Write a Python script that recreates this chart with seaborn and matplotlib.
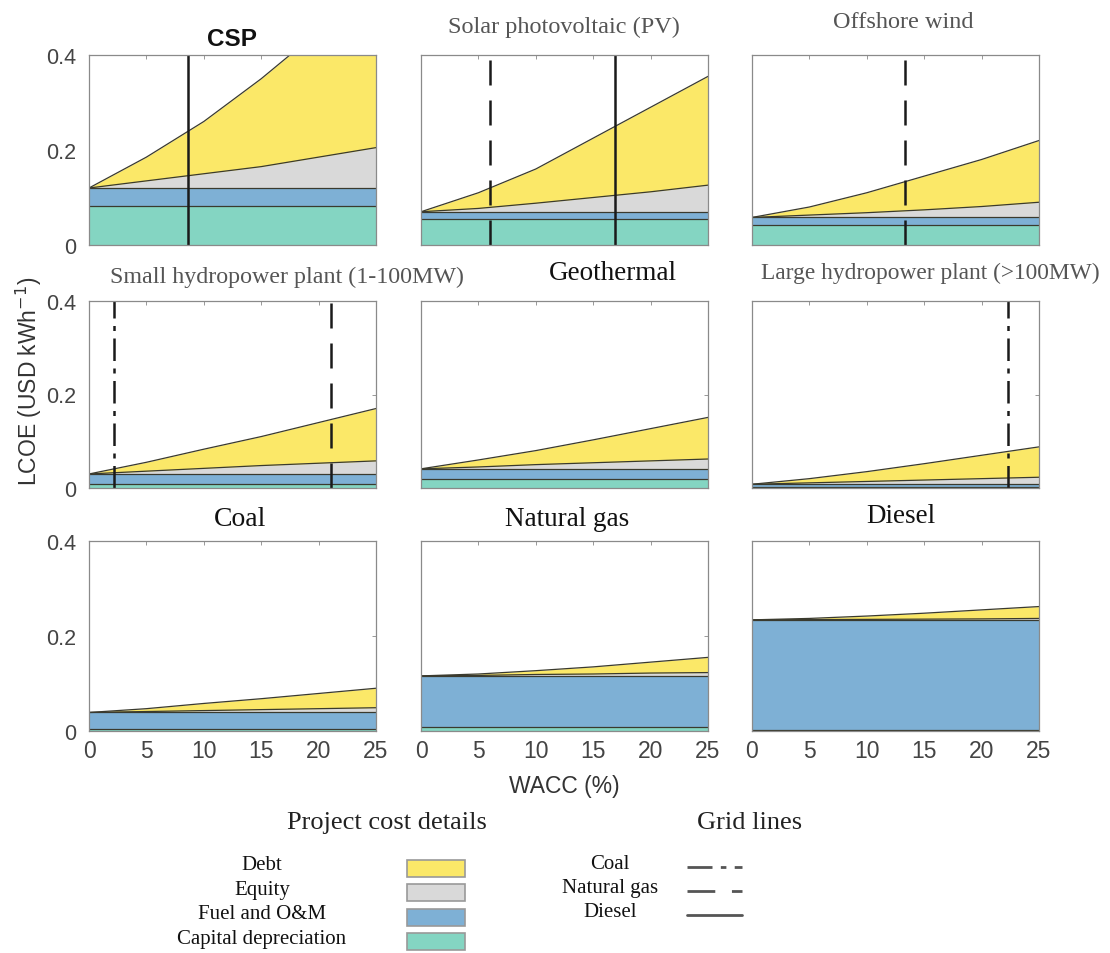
import matplotlib
matplotlib.use("Agg")
import matplotlib.pyplot as plt
import seaborn as sns
import numpy as np
from matplotlib.patches import Rectangle
from matplotlib.lines import Line2D

# WACC (%) grid
wacc = [0, 5, 10, 15, 20, 25]

techs = ["CSP", "Solar photovoltaic (PV)", "Offshore wind",
         "Small hydropower plant (1-100MW)", "Geothermal", "Large hydropower plant (>100MW)",
         "Coal", "Natural gas", "Diesel"]

# LCOE components (USD/kWh)
capital = {
    "CSP": [0.083, 0.083, 0.083, 0.083, 0.083, 0.083],
    "Solar photovoltaic (PV)": [0.055, 0.055, 0.055, 0.055, 0.055, 0.055],
    "Offshore wind": [0.043, 0.043, 0.043, 0.043, 0.043, 0.043],
    "Small hydropower plant (1-100MW)": [0.009, 0.009, 0.009, 0.009, 0.009, 0.009],
    "Geothermal": [0.019, 0.019, 0.019, 0.019, 0.019, 0.019],
    "Large hydropower plant (>100MW)": [0.003, 0.003, 0.003, 0.003, 0.003, 0.003],
    "Coal": [0.004, 0.004, 0.004, 0.004, 0.004, 0.004],
    "Natural gas": [0.009, 0.009, 0.009, 0.009, 0.009, 0.009],
    "Diesel": [0.003, 0.003, 0.003, 0.003, 0.003, 0.003],
}
fuel_om = {
    "CSP": [0.037, 0.037, 0.037, 0.037, 0.037, 0.037],
    "Solar photovoltaic (PV)": [0.015, 0.015, 0.015, 0.015, 0.015, 0.015],
    "Offshore wind": [0.015, 0.015, 0.015, 0.015, 0.015, 0.015],
    "Small hydropower plant (1-100MW)": [0.021, 0.021, 0.021, 0.021, 0.021, 0.021],
    "Geothermal": [0.022, 0.022, 0.022, 0.022, 0.022, 0.022],
    "Large hydropower plant (>100MW)": [0.005, 0.005, 0.005, 0.005, 0.005, 0.005],
    "Coal": [0.035, 0.035, 0.035, 0.035, 0.035, 0.035],
    "Natural gas": [0.107, 0.107, 0.107, 0.107, 0.107, 0.107],
    "Diesel": [0.231, 0.231, 0.231, 0.231, 0.231, 0.231],
}
equity = {
    "CSP": [0, 0.015, 0.030, 0.045, 0.065, 0.085],
    "Solar photovoltaic (PV)": [0, 0.007, 0.018, 0.030, 0.042, 0.056],
    "Offshore wind": [0, 0.005, 0.010, 0.016, 0.023, 0.032],
    "Small hydropower plant (1-100MW)": [0, 0.006, 0.012, 0.018, 0.023, 0.028],
    "Geothermal": [0, 0.004, 0.009, 0.013, 0.017, 0.021],
    "Large hydropower plant (>100MW)": [0, 0.003, 0.006, 0.009, 0.012, 0.015],
    "Coal": [0, 0.002, 0.004, 0.006, 0.008, 0.010],
    "Natural gas": [0, 0.001, 0.003, 0.004, 0.006, 0.007],
    "Diesel": [0, 0.0005, 0.001, 0.0015, 0.002, 0.003],
}
debt = {
    "CSP": [0, 0.050, 0.110, 0.185, 0.265, 0.355],
    "Solar photovoltaic (PV)": [0, 0.033, 0.072, 0.125, 0.178, 0.229],
    "Offshore wind": [0, 0.017, 0.042, 0.071, 0.099, 0.130],
    "Small hydropower plant (1-100MW)": [0, 0.019, 0.041, 0.062, 0.087, 0.112],
    "Geothermal": [0, 0.015, 0.030, 0.049, 0.069, 0.089],
    "Large hydropower plant (>100MW)": [0, 0.009, 0.021, 0.035, 0.050, 0.065],
    "Coal": [0, 0.006, 0.015, 0.023, 0.032, 0.041],
    "Natural gas": [0, 0.003, 0.008, 0.015, 0.023, 0.032],
    "Diesel": [0, 0.0025, 0.007, 0.0125, 0.019, 0.025],
}

# WACC at which each technology reaches grid parity with coal / gas / diesel
grid_lines = {
    "CSP": [("Diesel", 8.65)],
    "Solar photovoltaic (PV)": [("Natural gas", 6.0), ("Diesel", 16.9)],
    "Offshore wind": [("Natural gas", 13.3)],
    "Small hydropower plant (1-100MW)": [("Coal", 2.2), ("Natural gas", 21.1)],
    "Large hydropower plant (>100MW)": [("Coal", 22.3)],
}

col_capital = "#84d5c2"
col_fuel = "#7eb0d5"
col_equity = "#d9d9d9"
col_debt = "#fbe868"
grid_styles = {"Coal": (0, (9, 3, 2, 3)), "Natural gas": (0, (10, 6)), "Diesel": "-"}

SERIF = ["Liberation Serif", "DejaVu Serif"]
SANS = ["Liberation Sans", "DejaVu Sans"]

sns.set_style("white")
plt.rcParams["font.family"] = SANS

W, H = 1110, 954
fig = plt.figure(figsize=(W / 100, H / 100), dpi=100)

lefts = [89, 421, 752]
tops = [56, 302, 542]
heights = [190, 187, 190]
axw = 287

title_pos = [(232, 40), (564, 27), (903, 22), (287, 277), (613, 274), (930, 273),
             (240, 520), (567, 520), (901, 517)]
title_col = ["#111", "#555", "#555", "#555", "#111", "#555", "#111", "#111", "#111"]
title_size = [17.5, 17.5, 17.5, 17.3, 19.5, 16.8, 20, 19.5, 19.5]

x = np.array(wacc, dtype=float)
for i, t in enumerate(techs):
    r, c = divmod(i, 3)
    ax = fig.add_axes([lefts[c] / W, 1 - (tops[r] + heights[r]) / H, axw / W, heights[r] / H])
    l1 = np.array(capital[t])
    l2 = l1 + np.array(fuel_om[t])
    l3 = l2 + np.array(equity[t])
    l4 = l3 + np.array(debt[t])
    ax.fill_between(x, 0, l1, color=col_capital, lw=0)
    ax.fill_between(x, l1, l2, color=col_fuel, lw=0)
    ax.fill_between(x, l2, l3, color=col_equity, lw=0)
    ax.fill_between(x, l3, l4, color=col_debt, lw=0)
    for lv in (l1, l2, l3, l4):
        sns.lineplot(x=x, y=lv, ax=ax, color="#3a3a2e", lw=0.9)
    for kind, xv in grid_lines.get(t, []):
        ax.axvline(xv, color="#1a1a1a", lw=1.8, linestyle=grid_styles[kind])
    ax.set_xlim(0, 25)
    ax.set_ylim(0, 0.4)
    ax.set_xticks([0, 5, 10, 15, 20, 25])
    ax.set_yticks([0, 0.2, 0.4])
    ax.tick_params(direction="in", length=3, width=0.6, colors="#888", top=True, right=True,
                   labelcolor="#444")
    ax.tick_params(axis="x", pad=6)
    ax.tick_params(axis="y", pad=9)
    if c == 0:
        ax.set_yticklabels(["0", "0.2", "0.4"], fontsize=15.5)
    else:
        ax.set_yticklabels([])
    if r == 2:
        ax.set_xticklabels([str(v) for v in wacc], fontsize=16.5)
    else:
        ax.set_xticklabels([])
    for s in ax.spines.values():
        s.set_color("#8a8a8a")
        s.set_linewidth(0.9)
    tx, ty = title_pos[i]
    if t == "CSP":
        fig.text(tx / W, 1 - ty / H, t, ha="center", va="center", fontsize=17.5,
                 fontweight="bold", family=SANS, color="#111")
    else:
        fig.text(tx / W, 1 - ty / H, t, ha="center", va="center", fontsize=title_size[i],
                 family=SERIF, color=title_col[i])

fig.text(29 / W, 1 - 381 / H, "LCOE (USD kWh$^{-1}$)", rotation=90, ha="center",
         va="center", fontsize=16.5, color="#333")
fig.text(564 / W, 1 - 786 / H, "WACC (%)", ha="center", va="center", fontsize=16.5, color="#333")

# legend block
fig.text(387 / W, 1 - 823 / H, "Project cost details", ha="center", va="center",
         fontsize=19, family=SERIF, color="#222")
fig.text(750 / W, 1 - 823 / H, "Grid lines", ha="center", va="center",
         fontsize=19, family=SERIF, color="#222")

cost_labels = ["Debt", "Equity", "Fuel and O&M", "Capital depreciation"]
cost_colors = [col_debt, col_equity, col_fuel, col_capital]
for k, (lab, colr) in enumerate(zip(cost_labels, cost_colors)):
    yc = 869 + 24.5 * k
    fig.text(262 / W, 1 - (yc - 3) / H, lab, ha="center", va="center", fontsize=15,
             family=SERIF, color="#111")
    fig.add_artist(Rectangle((407 / W, 1 - (yc + 8.5) / H), 58 / W, 17 / H,
                             transform=fig.transFigure, facecolor=colr,
                             edgecolor="#999", lw=1.2))

grid_labels = ["Coal", "Natural gas", "Diesel"]
for k, lab in enumerate(grid_labels):
    yc = 865 + 24 * k
    fig.text(610 / W, 1 - yc / H, lab, ha="center", va="center", fontsize=15,
             family=SERIF, color="#111")
    fig.add_artist(Line2D([687 / W, 742 / W], [1 - (yc + 3) / H, 1 - (yc + 3) / H],
                          transform=fig.transFigure, color="#555", lw=2,
                          linestyle=grid_styles[lab]))

fig.savefig("out.png", dpi=100)
